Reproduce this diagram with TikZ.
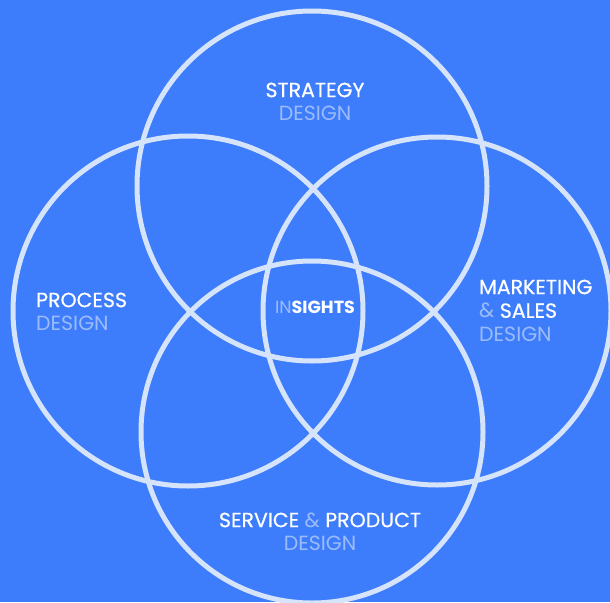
\documentclass[tikz,border=0pt]{standalone}
\usepackage{fontspec}
\setmainfont{Poppins}
\newfontfamily\medfont{Poppins}[FakeBold=0.5]
\usepackage{tikz}
\usetikzlibrary{positioning}
\definecolor{bgblue}{HTML}{3D7DFC}
\definecolor{ringwhite}{HTML}{D5E3FB}
\definecolor{fadeblue}{HTML}{9CBCF9}

\begin{document}
\begin{tikzpicture}[x=1pt, y=-1pt,
    ring/.style={draw=ringwhite, line width=5pt},
    title/.style={font=\medfont\fontsize{20.5}{24}\selectfont, text=white, inner sep=0pt},
    sub/.style={font=\fontsize{20.5}{24}\selectfont, text=fadeblue, inner sep=0pt},
]

% background
\fill[bgblue] (0,0) rectangle (610,602);
\clip (0,0) rectangle (610,602);

% the four circles
\draw[ring] (312,186) circle[radius=175pt];
\draw[ring] (188,311) circle[radius=175pt];
\draw[ring] (437,311) circle[radius=174pt];
\draw[ring] (312,432) circle[radius=171pt];

% top
\node[title] (strat) at (315,90) {STRATEGY};
\node[sub, below=8.5pt of strat] (stratsub) {DESIGN};

% left
\node[title, anchor=west] (proc) at (36,300) {PROCESS};
\node[sub, below right=8.5pt and 0pt of proc.south west] (procsub) {DESIGN};

% right
\node[title, anchor=west] (mark) at (479,287) {MARKETING};
\node[title, below right=8.5pt and 0pt of mark.south west] (sales) {{\normalfont\color{fadeblue}\&} SALES};
\node[sub, below right=8.5pt and 0pt of sales.south west] (marksub) {DESIGN};

% bottom
\node[title] (serv) at (320,520) {SERVICE {\normalfont\color{fadeblue}\&} PRODUCT};
\node[sub, below=8.5pt of serv] (servsub) {DESIGN};

% centre
\node[title, font=\fontsize{17.5}{19}\selectfont] (insight) at (315,307) {{\color{fadeblue}IN}\textbf{SIGHTS}};

\end{tikzpicture}
\end{document}
